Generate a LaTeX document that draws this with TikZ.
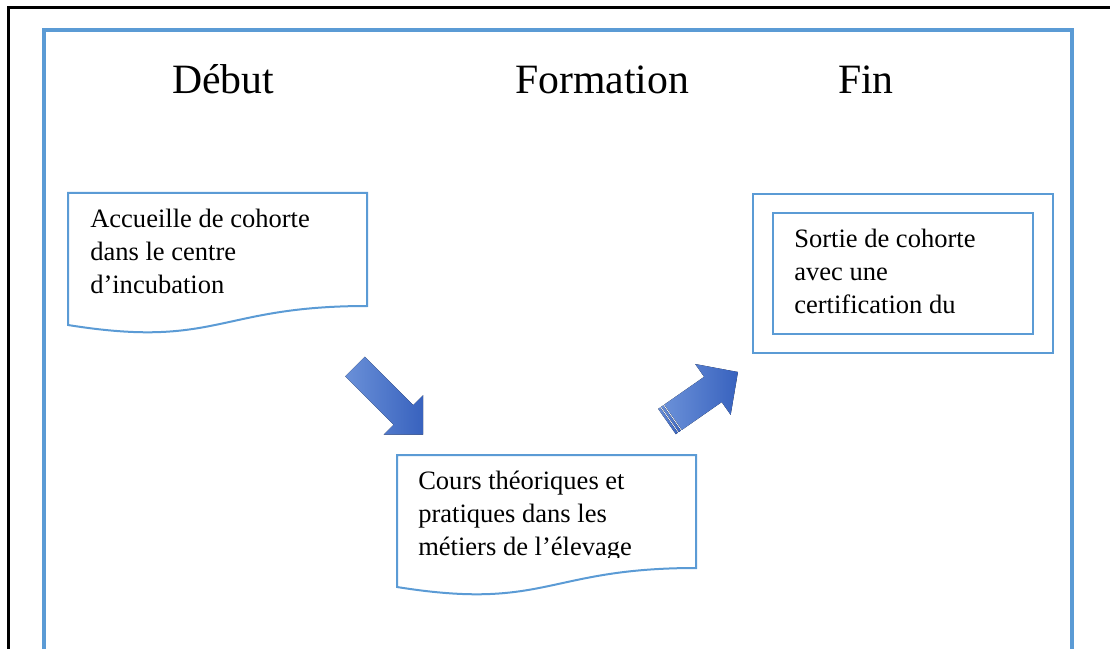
\documentclass[tikz,border=0pt]{standalone}
\usepackage{fontspec}
\setmainfont{Liberation Serif}
\definecolor{frameblue}{RGB}{91,155,213}
\definecolor{arrowlight}{RGB}{106,144,216}
\definecolor{arrowdark}{RGB}{56,98,190}
\tikzset{
  title/.style={font=\fontsize{31.3}{36}\selectfont, anchor=base, inner sep=0},
  boxtext/.style={font=\fontsize{19.9}{24.4}\selectfont, anchor=base west, align=left, inner sep=0},
  boxline/.style={draw=frameblue, line width=1.5pt},
  bigarrow/.style={left color=arrowlight, right color=arrowdark, draw=none}
}
\begin{document}
\begin{tikzpicture}[x=0.75pt,y=-0.75pt]
\useasboundingbox (0,0) rectangle (1110,649);
%outer frame
\draw[line width=2.25pt] (1120,8) -- (8.5,8) -- (8.5,660);
%blue frame
\draw[frameblue, line width=3pt] (43.5,660) -- (43.5,30) -- (1072,30) -- (1072,660);
%titles
\node[title] (debut) at (223,94) {Début};
\node[title] (formation) at (602,94) {Formation};
\node[title] (fin) at (866,94) {Fin};
%accueil
\draw[boxline] (68,193) -- (367,193) -- (367,306) .. controls (217.5,306) and (217.5,349) .. (68,325) -- cycle;
\node[boxtext] (accueil) at (90,293) {Accueille de cohorte\\dans le centre\\d’incubation};
%cours
\draw[boxline] (397,455) -- (696,455) -- (696,568) .. controls (546.5,568) and (546.5,611) .. (397,587) -- cycle;
\begin{scope}
\clip (397,455) rectangle (696,557);
\node[boxtext] (cours) at (418,555) {Cours théoriques et\\pratiques dans les\\métiers de l’élevage};
\end{scope}
%sortie
\draw[boxline] (753,194) rectangle (1053,353);
\draw[boxline] (773,213) rectangle (1033,334);
\node[boxtext] (sortie) at (794,313) {Sortie de cohorte\\avec une\\certification du};
%arrow down
\begin{scope}[shift={(355,366.5)}, rotate=-45]
\fill[bigarrow] (0,-13.8) -- (68.5,-13.8) -- (68.5,-28) -- (96.5,0) -- (68.5,28) -- (68.5,13.8) -- (0,13.8) -- cycle;
\end{scope}
%arrow up, striped
\begin{scope}[shift={(667,421.5)}, rotate=34.9]
\fill[bigarrow] (0,-15.4) rectangle (2.5,15.4);
\fill[bigarrow] (3.7,-15.4) rectangle (6.2,15.4);
\fill[bigarrow] (7.4,-15.4) -- (56,-15.4) -- (56,-31) -- (86.5,0) -- (56,31) -- (56,15.4) -- (7.4,15.4) -- cycle;
\end{scope}
\end{tikzpicture}
\end{document}
